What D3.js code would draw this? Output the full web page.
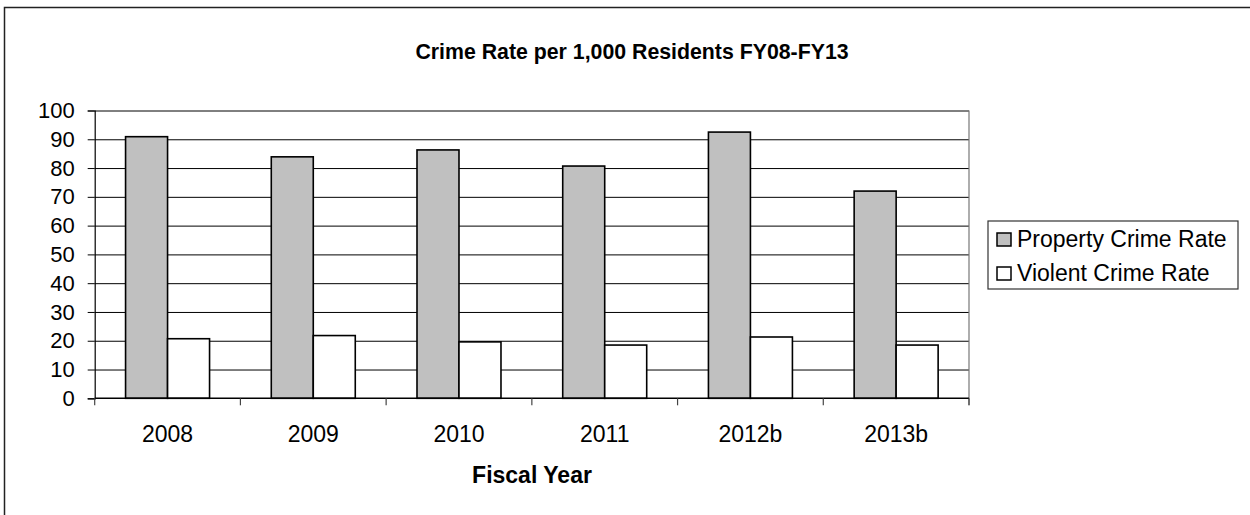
<!DOCTYPE html>
<html>
<head>
<meta charset="utf-8">
<script src="https://cdn.jsdelivr.net/npm/d3@7"></script>
<style>
  body { margin: 0; background: #fff; }
  text { font-family: "Liberation Sans", Arial, sans-serif; fill: #000; }
</style>
</head>
<body>
<script>
// Chart data
var years = ["2008", "2009", "2010", "2011", "2012b", "2013b"];
var seriesNames = ["Property Crime Rate", "Violent Crime Rate"];
var propertyRate = [90.9, 83.9, 86.3, 80.7, 92.5, 72.0];
var violentRate = [20.7, 21.8, 19.6, 18.5, 21.3, 18.5];
var yTicks = [0, 10, 20, 30, 40, 50, 60, 70, 80, 90, 100];
var fills = ["#c0c0c0", "#ffffff"];

var rows = years.map(function(y, i) {
  return { year: y, values: [propertyRate[i], violentRate[i]] };
});

var W = 1250, H = 515;
var plot = { left: 94.7, right: 969, top: 110.5, bottom: 398.3 };

var svg = d3.select("body").append("svg")
  .attr("width", W)
  .attr("height", H);

// outer frame (runs off the right and bottom edges)
svg.append("rect")
  .attr("x", 4.5).attr("y", 7.5)
  .attr("width", 1300).attr("height", 600)
  .attr("fill", "none")
  .attr("stroke", "#222")
  .attr("stroke-width", 1.5);

// scales
var x = d3.scaleBand()
  .domain(years)
  .range([plot.left, plot.right])
  .padding(0);

var xInner = d3.scaleBand()
  .domain(seriesNames)
  .range([0, x.bandwidth()])
  .paddingInner(0)
  .paddingOuter(0.735);

var y = d3.scaleLinear()
  .domain([0, 100])
  .range([plot.bottom, plot.top]);

// gridlines
svg.append("g")
  .attr("transform", "translate(" + plot.left + ",0)")
  .call(d3.axisLeft(y).tickValues(yTicks.slice(1))
    .tickSize(-(plot.right - plot.left)).tickFormat(""))
  .call(function(g) {
    g.select(".domain").remove();
    g.selectAll("line").attr("stroke", "#000").attr("stroke-width", 1);
  });

// plot area right edge
svg.append("line")
  .attr("x1", plot.right).attr("x2", plot.right)
  .attr("y1", plot.top).attr("y2", plot.bottom + 7)
  .attr("stroke", "#777")
  .attr("stroke-width", 1.2);

// bars
var groups = svg.selectAll(".year")
  .data(rows)
  .enter().append("g")
  .attr("class", "year")
  .attr("transform", function(d) { return "translate(" + x(d.year) + ",0)"; });

groups.selectAll("rect")
  .data(function(d) { return d.values.map(function(v, i) { return { name: seriesNames[i], value: v, i: i }; }); })
  .enter().append("rect")
  .attr("x", function(d) { return xInner(d.name); })
  .attr("y", function(d) { return y(d.value); })
  .attr("width", xInner.bandwidth())
  .attr("height", function(d) { return y(0) - y(d.value); })
  .attr("fill", function(d) { return fills[d.i]; })
  .attr("stroke", "#000")
  .attr("stroke-width", 1.6);

// y axis
svg.append("g")
  .attr("transform", "translate(" + plot.left + ",0)")
  .call(d3.axisLeft(y).tickValues(yTicks).tickSize(7).tickPadding(13))
  .call(function(g) {
    g.select(".domain").attr("stroke", "#000").attr("stroke-width", 1.2);
    g.selectAll("line").attr("stroke", "#000");
    g.selectAll("text").style("font-size", "22px").attr("font-family", null);
  });

// x axis: baseline, boundary ticks and labels
svg.append("line")
  .attr("x1", plot.left).attr("x2", plot.right)
  .attr("y1", y(0)).attr("y2", y(0))
  .attr("stroke", "#000").attr("stroke-width", 1.5);

var edges = years.map(function(c) { return x(c); }).concat([x(years[years.length - 1]) + x.bandwidth()]);
svg.selectAll(".xtick")
  .data(edges)
  .enter().append("line")
  .attr("class", "xtick")
  .attr("x1", function(d) { return d; }).attr("x2", function(d) { return d; })
  .attr("y1", y(0)).attr("y2", y(0) + 7)
  .attr("stroke", "#444").attr("stroke-width", 1.2);

svg.append("g")
  .attr("transform", "translate(0," + y(0) + ")")
  .call(d3.axisBottom(x).tickSize(0).tickPadding(27.5))
  .call(function(g) {
    g.select(".domain").remove();
    g.selectAll("text").style("font-size", "23px").attr("font-family", null);
  });

// title
svg.append("text")
  .attr("x", 632)
  .attr("y", 59)
  .attr("text-anchor", "middle")
  .style("font-size", "21.3px")
  .style("font-weight", "bold")
  .text("Crime Rate per 1,000 Residents FY08-FY13");

// x axis label
svg.append("text")
  .attr("x", 532)
  .attr("y", 483)
  .attr("text-anchor", "middle")
  .style("font-size", "23px")
  .style("font-weight", "bold")
  .text("Fiscal Year");

// legend
var legend = svg.append("g").attr("transform", "translate(988,221)");
legend.append("rect")
  .attr("x", 0).attr("y", 0)
  .attr("width", 250).attr("height", 68)
  .attr("fill", "#fff")
  .attr("stroke", "#333")
  .attr("stroke-width", 1.2);

var items = legend.selectAll(".item")
  .data(seriesNames)
  .enter().append("g")
  .attr("class", "item")
  .attr("transform", function(d, i) { return "translate(0," + (i * 34) + ")"; });

items.append("rect")
  .attr("x", 9).attr("y", 12)
  .attr("width", 14).attr("height", 13)
  .attr("fill", function(d, i) { return fills[i]; })
  .attr("stroke", "#000")
  .attr("stroke-width", 1.5);

items.append("text")
  .attr("x", 29)
  .attr("y", 26)
  .style("font-size", "23px")
  .text(function(d) { return d; });
</script>
</body>
</html>
